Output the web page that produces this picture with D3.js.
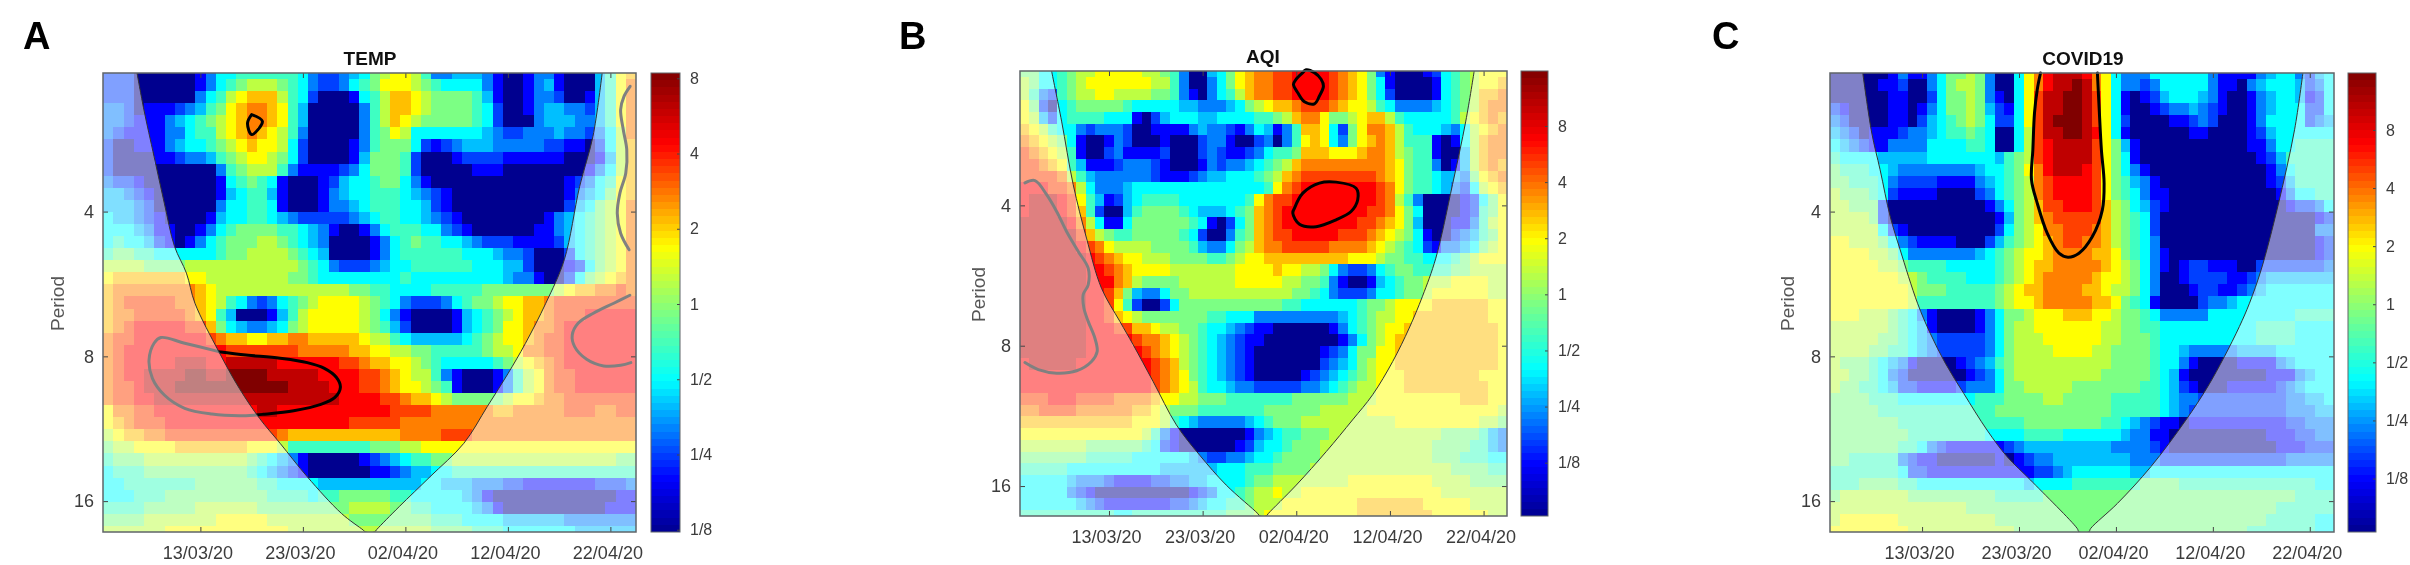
<!DOCTYPE html>
<html>
<head>
<meta charset="utf-8">
<script src="https://cdn.jsdelivr.net/npm/d3@7"></script>
<style>
    html, body { margin: 0; background: #fff; }
    svg { display: block; filter: blur(0.7px); font-family: "Liberation Sans", Arial, sans-serif; }
</style>
</head>
<body>
<div id="chart"></div>
<script>
// wavelet power, one string per period row, one hex digit per day
// 0 = bottom of the colourbar ... f = top of the colourbar
const tempRows = [
    '2220000001 3556666665 3223457899 8633444310 0133100046 9a',
    '2220000001 3567888765 3223567999 8765555310 0134100046 9b',
    '2220000003 5689aaa865 20001568aa 9877776410 0133200146 9b',
    '3320111234 679abba964 00000368aa 9877776520 0134433246 9b',
    '3321113456 789abba964 00000368a9 8777776520 0034443346 9b',
    '3211113356 689aba9863 0000036798 5555555432 2333433235 8b',
    '2001113455 6789a99852 0000136777 5212344433 3332211025 8a',
    '2000011233 4678998752 0000147776 2000122221 1111100014 8a',
    '2000000000 0367888631 1112357776 2000001110 0000000135 8a',
    '3221000000 0156765100 0124556775 3100000000 0000012356 9a',
    '4432100000 0145664100 0134556665 4321000000 0000013457 9a',
    '4443200000 0355665100 0133456665 5421000000 0000024578 9b',
    '5443210000 1455665432 2222345665 5432100000 0001345678 9b',
    '5554311001 3567777665 4310013566 6553210000 0011345678 9b',
    '5655421013 5677788765 4300001356 7665543222 1111245678 9b',
    '6776655555 5677888876 5400001356 6666655543 3200025678 9b',
    '8888777788 8888888887 6532223455 6666665554 4200012578 9b',
    '9aaaaaaa99 8888888877 6555555556 5555555554 3310025789 ab',
    'abbbbbbbba 9888888888 8888776655 5566666777 777789aabb cb',
    'abcccccbba 9865323567 8999987653 2223567789 9aabcccccc cc',
    'abbcccccba 9640001468 9999987531 0000145678 9aabcccddd dd',
    'abcdddddcc a754334578 9999987642 0000145679 9abbcddddd dd',
    'bccddddddd cbaa99aabb aaaaa98865 4444456789 9abccddddd dd',
    'bcdddddddd ddcccccccb bbbbaa9988 7766666788 9bbccddddd dd',
    'bcdddddeee ddeeeeeddd dddccbaa99 8765555567 89abcddddd dd',
    'bcddeeeeff eeffffeeee eddddccba9 8863100013 689bccdddd dd',
    'bccdeeefff ffffffffee eedddccba9 9876100013 689bccdddd dd',
    'bccddeeeee eeeeeeeeee eeeddddccb aa98777778 99abbccccc cc',
    '9bbccddddd dddddeeddd ddddddddcc ccbbbbbbaa bbbbbcccbb cc',
    '9abcccdddd dddddddddd ddddcccccb bbbbbbbbbb bbbbbbbbbb bb',
    '89aabbcccc cccccccbaa aaaaaaaaab bbbcccbbbb bbbbbbbbbb bb',
    '7889999aaa aaaa999866 6666667778 8999999999 9999999999 99',
    '6777888888 8888765431 0000012345 6677888888 8888888888 77',
    '5666777777 7777654321 0000001123 4455666666 6666666666 66',
    '5566666667 7777766555 5444444444 4554443332 2111111122 23',
    '5556667777 7777776666 5667777766 5555543100 0000000000 11',
    '6666777778 8888877777 7777888877 6655554310 0000000001 11',
    '7777888888 8999998888 8888777777 7766655554 4444433333 33',
    '8888889999 9999999988 8888888888 8877776665 5555554444 44'
]
const aqiRows = [
    '7755678899 9998876300 4579abbccd dddcba9731 0001256789 99',
    '8755678999 9999886300 3579abbccd dddcba9751 0000156789 9a',
    '8632678899 8888776310 3568abbccd dddcba9752 0000156 78a ab',
    '9720567777 7655555443 3345789aab cccba99865 3333456 78a bb',
    '9842566665 5510245554 4555566 78a bb97789aa8 6555556 89a ba',
    'a986553233 3200111134 3321354136 aa95279bba 8655543589 ab',
    'ba98751001 3200010002 3310023036 9a95379aba 8666101 58a bb',
    'cba9861002 3111120002 3211235667 aaa999abba 8766100 48a bb',
    'ccba964111 2333210001 3233456 78a bbbbbbbbba 9766301 48a ba',
    'ccccb86433 3333211123 4455567 8ab ccccccccba 9766544 379 ab',
    'dddccb8533 3455555555 5555556 9bc ddddddddcb 9766543258 9a',
    'deeedc9641 2456666555 555569bccd ddddddddcb 8630000125 79',
    'deeedca620 0467777654 44567abcdd dddddddccb 9750000126 79',
    'eeeeedb851 1577777765 10257abcdd ddddddccba 9740001136 89',
    'eeeeeeca87 6677777652 00367abccd ddddcccba9 8751002346 79',
    'eeeeeedcb9 8888777764 33578abbcc cccbbbba98 7652133457 89',
    'eeeeeeedcb a998887777 66789 9aaaa aaaaa99987 7665556789 99',
    'eeeeeeeddc ba99998888 8889999a99 8875322356 7766667788 88',
    'eeeeeeeddd ba87777888 8889999988 7763100145 6778889999 88',
    'eeeeeeeddc a743357788 8888888887 7653222355 6778999999 88',
    'eeeeeeeddc 9620025777 7777777766 5555556778 9999aaaaaa 99',
    'eeeeeeeddc a987777777 6655533333 3333456788 99aaaaaaaa 99',
    'eeeeeeeddd ccaa988776 5543211000 0001356789 9aaaaaaaaa a9',
    'eeeeeeeddd ddcbba9876 5432110000 0000135789 aaaaaaaaaa a9',
    'eeeeeeeddd dddcba9876 5432100000 0012357799 aaaaaaaaaa a9',
    'deeeeedddd ddddcba876 5432100000 0023457899 aaaaaaaaaa a9',
    'dddddddddd ddddcba976 5432100000 1234567899 9aaaaaaaa9 99',
    'dddddddddd ddddcba986 5543322222 3345678899 9aaaaaaaaa 99',
    'cccdddcccc bbbba99887 7766666667 7777788899 9999999aaa 99',
    'bbccccbbbb bbaa987776 6666667777 7788888999 9999999999 98',
    'aaaaaaaaaa aa99986543 3333456777 8888888888 9999999998 87',
    '9999999999 9998631000 0000134566 7778888888 8888877776 43',
    '8888888777 7776521000 0001245567 7788888888 8888777766 43',
    '7777777666 6655555543 2233455677 7788888888 8888777666 55',
    '6666655555 5555544444 4555666777 7888888888 8888887777 66',
    '5555543332 1111223344 5555677888 8888899999 9999888877 77',
    '5555532100 0000000012 3556788988 9999999999 9999988888 88',
    '5555554321 1111112234 5566788899 999999aaaa aaa9999988 88',
    '6666666666 5566666666 6677789999 999999aaaa aaaa999999 88'
]
const covidRows = [
    '0000001311 3577873005 9bdeeedb95 3335555553 1111345532 45',
    '0000011200 3578873005 9bdeefeb95 3323555553 1103455542 35',
    '0000001100 2577873105 9ceeffec95 1012455543 1001345541 25',
    '2100001101 3577874215 9ceeffec95 1001233432 1001345552 25',
    '3200001102 4567875225 9cefffec95 2000011232 0001355552 34',
    '4320111233 4566765005 8ceeffed95 1000000110 0001245555 55',
    '5432113333 5555665005 8cdeeeec97 4100000000 0001135566 66',
    '6555544444 5555555467 8cdeeeec97 5100000000 0000124666 66',
    '7666554333 3333345567 9bdeeedc97 5310000000 0000013566 66',
    '7766653222 2111134567 8bcddddc97 6431000000 0000012466 66',
    '8777652111 1000023567 8bcddddc97 6531100000 0000001355 66',
    '8877720000 0000001357 8accdddca8 7542100000 0000000122 35',
    '8888720000 0000000147 8abccccca8 7652000000 0000000000 12',
    '8888852100 0000000257 89bbcccba8 7652000000 0000000000 33',
    '9988875321 1110002467 89abccbba8 7653000000 0000000000 12',
    '9999887533 3333345678 99abbbbaa9 7653100000 0000000000 12',
    '9999988766 6655555678 9aabbbbba9 8753101221 1100222222 23',
    '9999999887 6666555678 9abbbbba99 8753001222 2112344444 44',
    '9999999987 7766666789 aabbbbaa98 8753000122 1123455555 55',
    '9999999986 6666666789 9abbbbbaa9 7651000023 3455555555 55',
    '9998887653 1000013577 8999aaa998 7765333335 5555555566 66',
    '8888887654 1000013578 8999999988 7766555555 5555666655 55',
    '8888877654 3222223578 8899999988 7776555555 5555666655 55',
    '8888776654 3222223578 8889999887 7776554333 3344445555 55',
    '8777654310 0001234678 8888888887 7776553100 0011113455 55',
    '8877653200 0000123578 8888888877 7776541000 0000011134 55',
    '8776654221 1112333577 8888877777 7766542100 0111112345 55',
    '7777666555 5555566677 7788777776 6666543322 2222222334 45',
    '7777766666 6666666777 7777777776 6666543222 2222222333 44',
    '7777777666 6666666666 7777777766 5432110111 1111111223 33',
    '7777777766 6666665555 6666555555 4331100000 0000011122 33',
    '7777777665 3211111123 4444444443 3332100000 0000001112 22',
    '7766666321 1000000101 2334444444 4333222222 2222222333 33',
    '6666666522 1111111111 1223455555 5445555555 5555555555 55',
    '6667777665 5555555555 4555566666 6677776666 6666666666 55',
    '7888888877 7777777666 6677777777 7777777777 7777777766 66',
    '8888888888 8888777777 7777777777 7777777777 7777776666 66',
    '8999999888 8888888777 7777777777 7777777777 7777766666 55',
    '9999999988 8888888887 7777777777 7777777777 7776666666 55'
]

// tick labels
const dateTicks = ['2020-03-13', '2020-03-23', '2020-04-02', '2020-04-12', '2020-04-22']
const periodTicks = [4, 8, 16]
const powerTicks = [8, 4, 2, 1, 1 / 2, 1 / 4, 1 / 8]
const powerLabels = ['8', '4', '2', '1', '1/2', '1/4', '1/8']

// cone of influence and significance contours as [day, period row]
const tempCone = [[3.32, 0], [3.99, 3.04], [4.98, 6.9], [5.98, 10.77], [6.98, 14.36], [8.14, 16.57], [8.97, 19.06], [11.3, 23.07], [13.29, 26.1], [15.28, 28.6], [17.28, 30.66], [19.93, 33.43], [23.26, 36.46], [25.4, 37.85], [25.6, 38], [26.5, 38], [26.7, 37.8], [28.9, 35.9], [31.9, 33.43], [35.2, 30.66], [37.5, 27.6], [39.5, 24.9], [41.2, 22.4], [43.2, 19.06], [45, 15.47], [46.5, 9.4], [47.8, 5.25], [48.7, 0]]
const aqiCone = [[3.37, 0], [4.44, 4.28], [5.68, 9.7], [7.1, 14.27], [8.7, 18.55], [10.66, 21.38], [12.08, 23.37], [14.21, 26.51], [16.7, 30.22], [19.18, 32.8], [22.02, 35.36], [25.4, 37.8], [25.6, 38], [26.3, 38], [26.5, 37.8], [29.5, 35.36], [32.7, 32.5], [35.5, 29.8], [37.65, 27.65], [39.8, 24.8], [41.56, 21.95], [42.98, 19.23], [44.4, 15.98], [46.18, 9.7], [47.6, 4.28], [48.5, 0]]
const covidCone = [[3.38, 0], [4.31, 4.97], [5.17, 8.01], [6.21, 11.88], [7.24, 14.64], [9.03, 19.06], [10.34, 21.55], [11.9, 24.03], [13.79, 26.52], [16.2, 29.56], [18.28, 31.77], [20.69, 33.7], [25.5, 37.7], [25.7, 38], [26.7, 38], [26.9, 37.7], [29.66, 35.63], [33.1, 32.6], [36.72, 28.73], [38.97, 25.97], [40.69, 23.48], [42.24, 20.99], [43.28, 19.06], [44.48, 16.3], [46.2, 11.05], [47.93, 4.7], [48.79, 0]]

const tempContours = [
    [[14.5, 3.45], [15.55, 4], [14.5, 5.1], [14.1, 4.15], [14.5, 3.45]],
    [[11.3, 23.07], [13.95, 23.34], [17.28, 23.62], [19.93, 23.98], [21.6, 24.45], [22.76, 25.19], [23.16, 26.02], [22.6, 26.88], [21.26, 27.43], [18.6, 27.96], [15.6, 28.26], [14.95, 28.31], [13.29, 28.38], [10.63, 28.24], [7.97, 27.76], [5.98, 26.66], [4.82, 25.28], [4.49, 23.76], [4.98, 22.37], [5.65, 21.9], [7.97, 22.37], [11.3, 23.07]],
    [[51.43, 1.1], [50.83, 1.93], [50.5, 3.04], [50.76, 4.7], [51.1, 6.35], [51, 8.29], [50.43, 9.94], [50.17, 11.6], [50.5, 13.26], [51.33, 14.64]],
    [[51.4, 18.4], [49.83, 19.06], [47.84, 19.89], [46.35, 20.72], [45.78, 21.69], [46.01, 22.65], [47.18, 23.7], [48.84, 24.25], [50.5, 24.2], [51.5, 23.98]]
]
const aqiContours = [
    [[30.2, 0.14], [29.48, 0.71], [29.2, 1.14], [29.66, 1.86], [30.37, 2.63], [31.44, 2.8], [31.97, 2.14], [32.4, 1.29], [32.15, 0.71], [31.44, 0.14], [30.55, -0.1], [30.2, 0.14]],
    [[29.31, 11.71], [30.2, 10.43], [31.97, 9.57], [33.75, 9.49], [35.88, 10], [36.06, 11], [35.35, 12], [33.75, 12.71], [31.62, 13.29], [29.84, 13.09], [29.13, 12.14], [29.31, 11.71]],
    [[0.53, 9.56], [1.6, 9.36], [2.84, 10.56], [3.91, 11.99], [4.97, 13.7], [6.22, 15.41], [7.28, 16.84], [7.28, 18.26], [6.75, 19.09], [6.82, 20.24], [7.28, 21.38], [7.99, 22.8], [8.24, 23.95], [7.64, 24.8], [6.04, 25.6], [3.91, 25.8], [1.95, 25.5], [0.53, 24.9]]
]
const covidContours = [
    [[21.72, 0], [21.38, 1.38], [21.1, 3.31], [20.93, 6.35], [20.79, 8.84], [21.38, 10.77], [22.41, 13.26], [23.62, 14.92], [24.55, 15.25], [25.69, 14.92], [27.07, 13.54], [28.1, 11.33], [28.28, 9.12], [28, 6.35], [27.76, 2.76], [27.59, 0]]
]

// jet as it runs along the colourbars, position 0..1
const jetStops = [0, 0.115, 0.33, 0.48, 0.62, 0.845, 1]
const jetColors = ['#00008f', '#0000ff', '#00ffff', '#80ff80', '#ffff00', '#ff0000', '#800000']
const levelStops = [0, 1, 5, 9, 13, 15]
const levelPositions = [0, 0.115, 0.33, 0.62, 0.845, 1]

const panels = [
    { letter: 'A', letterX: 23, title: 'TEMP', titleX: 370, labelX: 57, rows: tempRows, cone: tempCone, contours: tempContours, left: 103, right: 636, top: 73, bottom: 532, barLeft: 651, barRight: 680, power: [-3.03, 3.07] },
    { letter: 'B', letterX: 899, title: 'AQI', titleX: 1263, labelX: 978, rows: aqiRows, cone: aqiCone, contours: aqiContours, left: 1020, right: 1507, top: 71, bottom: 516, barLeft: 1521, barRight: 1548, power: [-3.95, 3.98] },
    { letter: 'C', letterX: 1712, title: 'COVID19', titleX: 2083, labelX: 1787, rows: covidRows, cone: covidCone, contours: covidContours, left: 1830, right: 2334, top: 73, bottom: 532, barLeft: 2348, barRight: 2376, power: [-3.92, 3.98] }
]

const startDate = new Date(Date.UTC(2020, 2, 3, 12))
const endDate = new Date(Date.UTC(2020, 3, 24, 12))
const dayCount = 52
const rowCount = 38
const borderColor = '#5f6468'
const textColor = '#3c3c3c'

const svg = d3.select('#chart').append('svg').attr('width', 2410).attr('height', 565)

function styleAxis (g) {
    g.selectAll('.domain').remove()
    g.selectAll('line').attr('stroke', '#444').attr('stroke-width', 1)
    g.selectAll('text').attr('fill', textColor).style('font-family', 'inherit')
}

function drawPanel (p, index) {
    const xDay = d3.scaleLinear().domain([0, dayCount]).range([p.left, p.right])
    const yRow = d3.scaleLinear().domain([0, rowCount]).range([p.top, p.bottom])
    const xTime = d3.scaleUtc().domain([startDate, endDate]).range([p.left, p.right])
    const yPeriod = d3.scaleLog().base(2).domain([2.06, 18.55]).range([p.top, p.bottom])

    const powerAt = d3.scaleLinear().domain([0, 1]).range(p.power)
    const levelToPower = d3.scaleLinear().domain(levelStops).range(levelPositions.map(powerAt))
    const color = d3.scaleLinear().domain(jetStops.map(powerAt)).range(jetColors).interpolate(d3.interpolateRgb).clamp(true)

    const panel = svg.append('g').attr('class', 'panel')
    const clipId = `plot-clip-${index}`
    panel.append('clipPath').attr('id', clipId).append('rect')
        .attr('x', p.left).attr('y', p.top)
        .attr('width', p.right - p.left).attr('height', p.bottom - p.top)

    const cells = []
    p.rows.forEach((row, r) => {
        row.replace(/ /g, '').split('').forEach((ch, d) => {
            cells.push({ day: d, row: r, power: levelToPower(parseInt(ch, 16)) })
        })
    })
    panel.append('g').attr('clip-path', `url(#${clipId})`).selectAll('rect')
        .data(cells).enter().append('rect')
        .attr('x', d => xDay(d.day))
        .attr('y', d => yRow(d.row - 0.5))
        .attr('width', d => xDay(d.day + 1) - xDay(d.day))
        .attr('height', d => yRow(d.row + 0.5) - yRow(d.row - 0.5))
        .attr('fill', d => color(d.power))
        .attr('shape-rendering', 'crispEdges')

    const line = d3.line().x(d => xDay(d[0])).y(d => yRow(d[1]))

    // contours go under the white veil, so they come out grey outside the cone
    panel.append('g').selectAll('path')
        .data(p.contours).enter().append('path')
        .attr('d', line.curve(d3.curveCatmullRom))
        .attr('fill', 'none').attr('stroke', '#000').attr('stroke-width', 3)
        .attr('stroke-linejoin', 'round').attr('stroke-linecap', 'round')

    const outer = [[0, -1], [dayCount, -1], [dayCount, rowCount + 1], [0, rowCount + 1]]
    const coneLine = d3.line().x(d => xDay(d[0])).y(d => yRow(d[1])).curve(d3.curveCatmullRom)
    const conePath = coneLine(p.cone)
    const outerPath = d3.line().x(d => xDay(d[0])).y(d => yRow(d[1]))(outer) + 'Z'
    panel.append('path')
        .attr('clip-path', `url(#${clipId})`)
        .attr('d', outerPath + conePath + 'Z')
        .attr('fill', '#fff').attr('fill-opacity', 0.5).attr('fill-rule', 'evenodd')
    panel.append('path')
        .attr('clip-path', `url(#${clipId})`)
        .attr('d', conePath)
        .attr('fill', 'none').attr('stroke', '#333').attr('stroke-width', 1)

    // box and inward ticks
    const dates = dateTicks.map(d => new Date(d + 'T00:00:00Z'))
    const xAxis = d3.axisBottom(xTime).tickValues(dates).tickFormat(d3.utcFormat('%d/%m/%y')).tickSizeInner(-5).tickPadding(14).tickSizeOuter(0)
    panel.append('g').attr('transform', `translate(0,${p.bottom})`).call(xAxis).call(styleAxis)
        .selectAll('text').attr('font-size', 18).attr('dx', -3)
    panel.append('g').attr('transform', `translate(0,${p.top})`)
        .call(d3.axisTop(xTime).tickValues(dates).tickFormat('').tickSizeInner(-5).tickSizeOuter(0)).call(styleAxis)

    const yAxis = d3.axisLeft(yPeriod).tickValues(periodTicks).tickFormat(d => d).tickSizeInner(-5).tickPadding(9).tickSizeOuter(0)
    panel.append('g').attr('transform', `translate(${p.left},0)`).call(yAxis).call(styleAxis)
        .selectAll('text').attr('font-size', 18)
    panel.append('g').attr('transform', `translate(${p.right},0)`)
        .call(d3.axisRight(yPeriod).tickValues(periodTicks).tickFormat('').tickSizeInner(-5).tickSizeOuter(0)).call(styleAxis)

    panel.append('rect')
        .attr('x', p.left).attr('y', p.top)
        .attr('width', p.right - p.left).attr('height', p.bottom - p.top)
        .attr('fill', 'none').attr('stroke', borderColor).attr('stroke-width', 1.5)

    // colourbar
    const yPower = d3.scaleLog().base(2).domain(p.power.map(v => Math.pow(2, v))).range([p.bottom, p.top])
    const steps = d3.range(64)
    const stepPower = d3.scaleLinear().domain([0, 64]).range(p.power)
    panel.append('g').selectAll('rect')
        .data(steps).enter().append('rect')
        .attr('x', p.barLeft)
        .attr('width', p.barRight - p.barLeft)
        .attr('y', d => yPower(Math.pow(2, stepPower(d + 1))))
        .attr('height', d => yPower(Math.pow(2, stepPower(d))) - yPower(Math.pow(2, stepPower(d + 1))))
        .attr('fill', d => color(stepPower(d + 0.5)))
        .attr('shape-rendering', 'crispEdges')
    const barAxis = d3.axisRight(yPower).tickValues(powerTicks).tickFormat((d, i) => powerLabels[i]).tickSizeInner(-3).tickPadding(10).tickSizeOuter(0)
    panel.append('g').attr('transform', `translate(${p.barRight},0)`).call(barAxis).call(styleAxis)
        .selectAll('text').attr('font-size', 16)
    panel.append('rect')
        .attr('x', p.barLeft).attr('y', p.top)
        .attr('width', p.barRight - p.barLeft).attr('height', p.bottom - p.top)
        .attr('fill', 'none').attr('stroke', borderColor).attr('stroke-width', 1)

    // titles
    panel.append('text').attr('x', p.titleX).attr('y', p.top - 8).attr('text-anchor', 'middle')
        .attr('font-size', 19).attr('font-weight', 'bold').attr('fill', '#111').text(p.title)
    panel.append('text').attr('x', p.letterX).attr('y', 49)
        .attr('font-size', 38).attr('font-weight', 'bold').attr('fill', '#000').text(p.letter)
    panel.append('text')
        .attr('transform', `translate(${p.labelX},${(p.top + p.bottom) / 2 + 1}) rotate(-90)`)
        .attr('text-anchor', 'middle').attr('dy', '0.35em')
        .attr('font-size', 19).attr('fill', '#555').text('Period')
}

panels.forEach(drawPanel)
</script>
</body>
</html>
